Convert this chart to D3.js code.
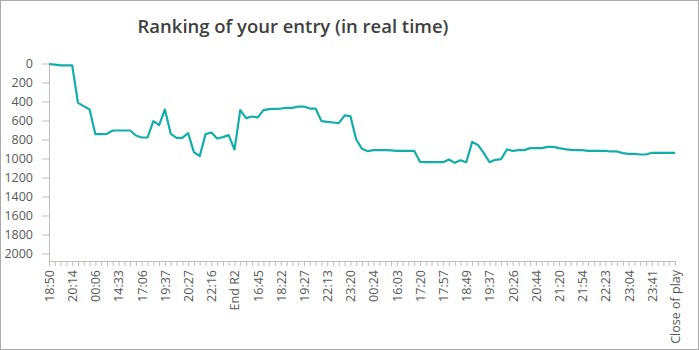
<!DOCTYPE html>
<html>
<head>
<meta charset="utf-8">
<script src="https://cdn.jsdelivr.net/npm/d3@7/dist/d3.min.js"></script>
<style>
  html, body { margin: 0; padding: 0; background: #fff; }
  svg { display: block; }
</style>
</head>
<body>
<svg id="chart" width="699" height="350"></svg>
<script>
const title = "Ranking of your entry (in real time)";
const tickLabels = ["18:50","20:14","00:06","14:33","17:06","19:37","20:27","22:16","End R2","16:45","18:22","19:27","22:13","23:20","00:24","16:03","17:20","17:57","18:49","19:37","20:26","20:44","21:20","21:54","22:23","23:04","23:41","Close of play"];
const labelEvery = 4;
const yTicks = [0, 200, 400, 600, 800, 1000, 1200, 1400, 1600, 1800, 2000];
const ranks = [
  5, 12, 20, 20, 20, 414, 449, 484, 744, 744,
  740, 705, 705, 705, 705, 758, 779, 779, 607, 649,
  484, 740, 782, 782, 733, 933, 975, 744, 726, 789,
  775, 754, 905, 491, 575, 558, 568, 491, 481, 477,
  474, 467, 467, 453, 453, 474, 474, 607, 614, 621,
  628, 547, 554, 800, 898, 923, 912, 912, 912, 915,
  919, 919, 919, 919, 1035, 1039, 1039, 1039, 1039, 1010,
  1046, 1018, 1039, 825, 857, 940, 1039, 1014, 1007, 905,
  919, 912, 912, 891, 891, 891, 877, 877, 891, 902,
  909, 912, 912, 919, 919, 919, 919, 926, 926, 944,
  951, 951, 958, 958, 940, 940, 940, 940, 940
];

const svg = d3.select("#chart");
const W = 699, H = 350;
const font = "'Open Sans', 'Noto Sans', sans-serif";
const textColor = "#595959";
const axisColor = "#bfbfbf";
const lineColor = "#14aeaa";

// border
svg.append("rect").attr("x", 0.5).attr("y", 0.5).attr("width", W - 1).attr("height", H - 1)
  .attr("fill", "#fff").attr("stroke", "#ababab");

const x = d3.scalePoint().domain(d3.range(ranks.length)).range([49, 675]);
const y = d3.scaleLinear().domain([0, 2000]).range([63.5, 253.5]);
const xAxisY = 261;

// title
const t = svg.append("text").text(title)
  .attr("x", 293).attr("y", 33)
  .attr("text-anchor", "middle")
  .attr("font-family", font).attr("font-weight", 600)
  .attr("font-size", 18).attr("fill", "#404040");
const tl = t.node().getComputedTextLength();
t.attr("font-size", 18 * 311 / tl);

// y axis
const gy = svg.append("g").attr("transform", "translate(49,0)")
  .call(d3.axisLeft(y).tickValues(yTicks).tickFormat(d3.format("d"))
    .tickSize(7).tickSizeOuter(0).tickPadding(9));
gy.select(".domain").remove();
gy.selectAll(".tick line").attr("stroke", axisColor);
gy.selectAll(".tick text").attr("font-family", font).attr("font-size", 12.5).attr("fill", textColor);
svg.append("line").attr("x1", 49).attr("x2", 49).attr("y1", y(0)).attr("y2", xAxisY)
  .attr("stroke", axisColor).attr("shape-rendering", "crispEdges");

// x axis
const gx = svg.append("g").attr("transform", `translate(0,${xAxisY})`)
  .call(d3.axisBottom(x).tickSize(5).tickSizeOuter(0)
    .tickFormat((d, i) => i % labelEvery === 0 ? (tickLabels[i / labelEvery] || "") : ""));
gx.select(".domain").attr("stroke", axisColor);
gx.selectAll(".tick line").attr("stroke", axisColor);
gx.selectAll(".tick text")
  .attr("font-family", font).attr("font-size", 12.5).attr("fill", textColor)
  .attr("transform", "rotate(-90)")
  .attr("text-anchor", "end")
  .attr("x", -9).attr("y", 0).attr("dy", "0.35em");

// line
const line = d3.line().x((d, i) => x(i)).y(d => y(d));
svg.append("path").datum(ranks)
  .attr("d", line)
  .attr("fill", "none")
  .attr("stroke", lineColor)
  .attr("stroke-width", 2.2)
  .attr("stroke-linejoin", "round");
</script>
</body>
</html>
